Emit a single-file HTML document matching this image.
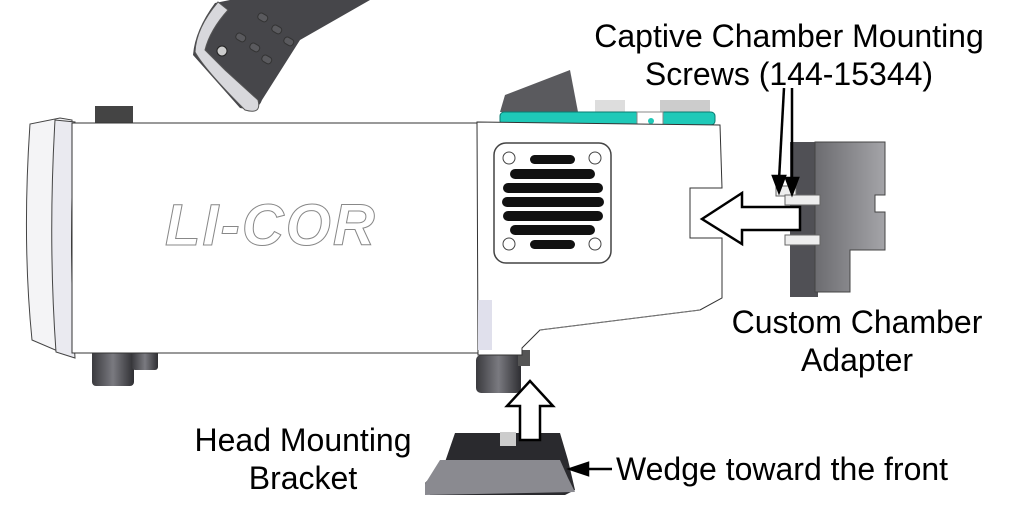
<!DOCTYPE html>
<html><head><meta charset="utf-8"><style>
html,body{margin:0;padding:0;background:#fff;width:1012px;height:506px;overflow:hidden}
svg{display:block}
text{font-family:"Liberation Sans",sans-serif;font-size:32px;fill:#000}
</style></head><body>
<svg width="1012" height="506" viewBox="0 0 1012 506">
<defs>
<linearGradient id="dk" x1="0" y1="0" x2="1" y2="0"><stop offset="0" stop-color="#3a3a3e"/><stop offset=".5" stop-color="#7a7a80"/><stop offset="1" stop-color="#2e2e32"/></linearGradient>
<linearGradient id="gr" x1="0" y1="0" x2="1" y2="0"><stop offset="0" stop-color="#6c6c70"/><stop offset="1" stop-color="#a4a4a8"/></linearGradient>
</defs>
<!-- handle -->
<path d="M215 3 Q195 30 193 55 L240 108 Q258 112 262 100 L300 40 L370 0 L230 0 Z" fill="#46464a"/>
<path d="M218 2 Q196 28 195 52 Q205 70 245 110 Q262 115 258 100 L225 70 L205 50 Q210 30 228 10 Z" fill="#d8d8dc" stroke="#555" stroke-width="1"/>
<circle cx="222" cy="51" r="5" fill="#ccc" stroke="#222"/>
<g fill="#5a5a5e" stroke="#333" stroke-width="1">
<rect x="236" y="34" width="10" height="7" rx="3" transform="rotate(30 241 37)"/><rect x="250" y="44" width="10" height="7" rx="3" transform="rotate(30 255 47)"/><rect x="262" y="56" width="10" height="7" rx="3" transform="rotate(30 267 59)"/>
<rect x="258" y="14" width="10" height="7" rx="3" transform="rotate(30 263 17)"/><rect x="272" y="26" width="10" height="7" rx="3" transform="rotate(30 277 29)"/><rect x="284" y="38" width="10" height="7" rx="3" transform="rotate(30 289 41)"/>
</g>
<!-- top details -->
<rect x="95" y="106" width="38" height="20" fill="#444"/>
<polygon points="500,112 505,95 570,70 578,112" fill="#5a5a5e"/>
<rect x="595" y="100" width="30" height="14" fill="#ddd"/>
<rect x="660" y="100" width="50" height="14" fill="#ccc"/>
<rect x="500" y="112" width="215" height="13" rx="4" fill="#1fc9b8" stroke="#0a7a70"/>
<path d="M637 112 L637 125 Q650 140 663 125 L663 112 Z" fill="#fff" stroke="#888"/>
<circle cx="651" cy="121" r="3" fill="#1fc9b8"/>
<!-- feet -->
<rect x="92" y="350" width="42" height="36" rx="4" fill="url(#dk)"/>
<rect x="132" y="350" width="26" height="20" rx="3" fill="url(#dk)"/>
<rect x="476" y="355" width="45" height="38" rx="5" fill="url(#dk)"/>
<rect x="518" y="350" width="12" height="16" fill="#555"/>
<!-- left caps -->
<path d="M30 124 Q22 240 32 340 L60 352 L72 352 L72 120 L60 118 Z" fill="#f4f4f6" stroke="#444"/>
<path d="M55 120 Q48 240 56 352 L75 358 Q68 240 75 122 Z" fill="#eaeaf0" stroke="#444"/>
<!-- main body -->
<rect x="72" y="123" width="410" height="230" fill="#fff" stroke="#333"/>
<text x="165" y="245" style="font-size:58px;font-style:italic;font-weight:bold;fill:#fff;stroke:#888;stroke-width:1;letter-spacing:2px" >LI-COR</text>
<!-- right section -->
<path d="M477 122 L720 125 L722 188 L690 188 L690 238 L722 238 L722 298 L700 310 Q620 320 540 330 L522 348 L522 355 L478 355 Z" fill="#fff" stroke="#333"/>
<rect x="478" y="300" width="14" height="50" fill="#e0e0ec"/>
<path d="M540 330 L700 310" stroke="#777" fill="none"/>
<!-- vent -->
<rect x="494" y="143" width="117" height="120" rx="12" fill="#fff" stroke="#444" stroke-width="1.5"/>
<g fill="#111">
<rect x="530" y="155" width="45" height="9" rx="4.5"/>
<rect x="510" y="169" width="85" height="10" rx="5"/>
<rect x="503" y="183" width="100" height="10" rx="5"/>
<rect x="502" y="197" width="102" height="10" rx="5"/>
<rect x="503" y="211" width="100" height="10" rx="5"/>
<rect x="510" y="225" width="85" height="10" rx="5"/>
<rect x="530" y="240" width="45" height="9" rx="4.5"/>
</g>
<g fill="#fff" stroke="#444"><circle cx="509" cy="158" r="6"/><circle cx="595" cy="158" r="6"/><circle cx="509" cy="244" r="6"/><circle cx="595" cy="244" r="6"/></g>
<!-- adapter -->
<rect x="790" y="142" width="28" height="155" fill="#505055"/>
<path d="M815 142 L885 142 L885 195 L875 195 L875 212 L885 212 L885 250 L850 250 L850 292 L815 292 Z" fill="url(#gr)" stroke="#444"/>
<rect x="776" y="186" width="20" height="10" fill="#eee" stroke="#666"/>
<rect x="785" y="195" width="35" height="10" fill="#eee" stroke="#666"/>
<rect x="785" y="235" width="35" height="10" fill="#eee" stroke="#666"/>
<!-- bracket -->
<polygon points="455,433 560,433 568,460 575,490 565,495 430,495 425,483 445,462" fill="#2a2a2e"/>
<polygon points="440,460 560,460 568,478 575,492 425,495 425,484" fill="#8a8a90"/>
<rect x="500" y="432" width="16" height="14" fill="#ccc"/>
<!-- arrows -->
<polygon points="530,381 553,406 540,406 540,440 520,440 520,406 507,406" fill="#fff" stroke="#000" stroke-width="2.5"/>
<polygon points="702,219 742,193 742,207 800,207 800,230 742,230 742,244" fill="#fff" stroke="#000" stroke-width="2.5"/>
<g stroke="#000" stroke-width="2.5" fill="#000">
<line x1="784" y1="88" x2="779" y2="180"/><polygon points="773,176 785,176 779,192" />
<line x1="792" y1="88" x2="792" y2="182"/><polygon points="786,178 798,178 792,194"/>
<line x1="612" y1="469" x2="585" y2="469"/><polygon points="588,463 588,475 570,469"/>
</g>
<!-- labels -->
<text x="789" y="47" text-anchor="middle">Captive Chamber Mounting</text>
<text x="789" y="85" text-anchor="middle">Screws (144-15344)</text>
<text x="857" y="333" text-anchor="middle">Custom Chamber</text>
<text x="857" y="371" text-anchor="middle">Adapter</text>
<text x="303" y="451" text-anchor="middle">Head Mounting</text>
<text x="303" y="489" text-anchor="middle">Bracket</text>
<text x="616" y="480">Wedge toward the front</text>
</svg>
</body></html>
